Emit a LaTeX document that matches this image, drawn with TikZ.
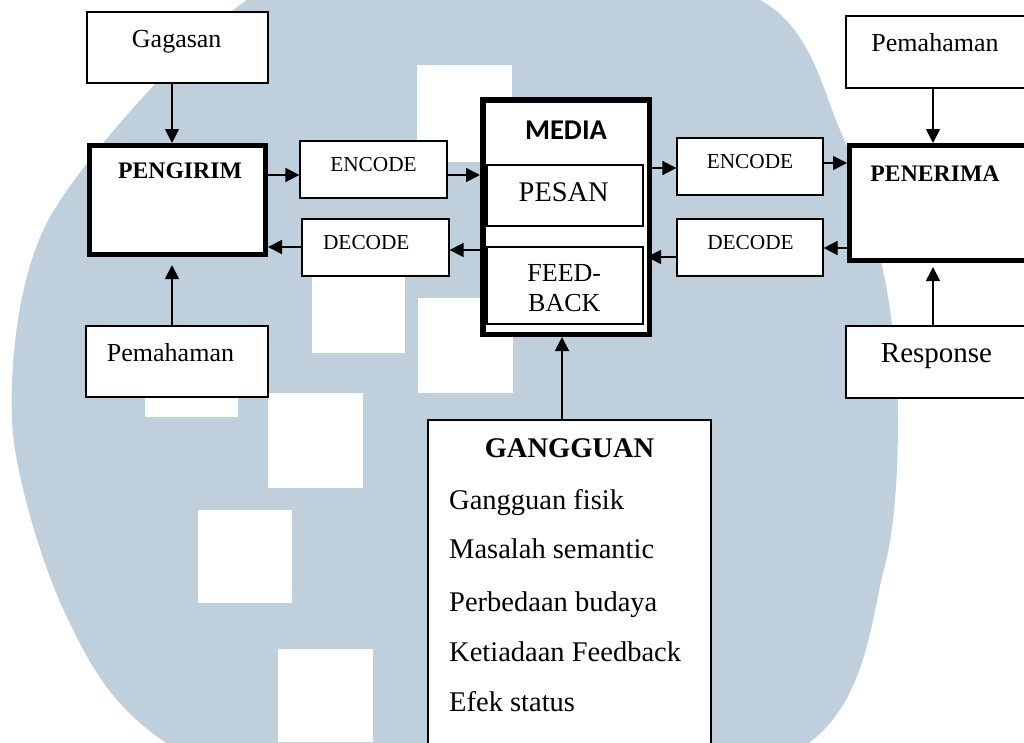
\documentclass[tikz,border=0pt]{standalone}
\usepackage{fontspec}
\setmainfont{Liberation Serif}
\newfontfamily\calibrifont{Carlito}
\usetikzlibrary{arrows.meta}
\definecolor{wmblue}{RGB}{192,207,220}
\begin{document}
\begin{tikzpicture}[x=1pt,y=-1pt,
  thinbox/.style={draw,line width=1.3pt,fill=white,inner sep=0pt},
  thickbox/.style={draw,line width=5pt,fill=white,inner sep=0pt},
  arr/.style={line width=1.8pt,-{Triangle[length=14pt,width=14pt]}},
  txt/.style={anchor=base,inner sep=0pt,font=\fontsize{26}{30}\selectfont},
  code/.style={anchor=base,inner sep=0pt,font=\fontsize{21.3}{25}\selectfont},
  head/.style={anchor=base,inner sep=0pt,font=\fontsize{23.7}{28}\selectfont\bfseries},
  item/.style={anchor=base west,inner sep=0pt,font=\fontsize{28.5}{32}\selectfont}]
\clip (0,0) rectangle (1024,742);
\fill[white] (0,0) rectangle (1024,742);
\fill[wmblue] plot[smooth cycle] coordinates {(470,-70) (760,0) (840,130) (885,280)
  (898,420) (884,569) (810,742) (470,880) (165,742) (65,613) (12,420) (50,217) (247,0)};
\foreach \xa/\ya/\xb/\yb in {417/65/512/162, 312/258/405/353, 418/298/513/393,
  145/340/238/417, 268/393/363/488, 198/510/292/603, 278/649/373/742}
  \fill[white] (\xa,\ya) rectangle (\xb,\yb);

\node[thinbox,minimum width=181pt,minimum height=71pt] (gagasan) at (177.5,47.5) {};
\node[thickbox,minimum width=176pt,minimum height=109pt] (pengirim) at (177.5,200) {};
\node[thinbox,minimum width=147pt,minimum height=57pt] (encL) at (373.5,169.5) {};
\node[thinbox,minimum width=147pt,minimum height=57pt] (decL) at (375.5,247.5) {};
\node[thinbox,minimum width=182pt,minimum height=71pt] (pemL) at (177,361.5) {};
\node[thickbox,line width=5.5pt,minimum width=166.5pt,minimum height=234.5pt] (media) at (566,217) {};
\node[thinbox,minimum width=156pt,minimum height=61pt] (pesan) at (565,195.5) {};
\node[thinbox,minimum width=156pt,minimum height=77pt] (feedback) at (565,285.5) {};
\node[thinbox,minimum width=146pt,minimum height=57pt] (encR) at (750,166.5) {};
\node[thinbox,minimum width=146pt,minimum height=57pt] (decR) at (750,247.5) {};
\node[thickbox,minimum width=188pt,minimum height=115pt] (penerima) at (943.5,203) {};
\node[thinbox,minimum width=194pt,minimum height=72pt] (pemR) at (943,52) {};
\node[thinbox,minimum width=194pt,minimum height=72pt] (response) at (943,362) {};
\node[thinbox,minimum width=283pt,minimum height=380pt] (gangguan) at (569.5,610) {};

\node[txt] (gagasantxt) at (176.7,47.7) {Gagasan};
\node[head] (pengirimtxt) at (180,178.3) {PENGIRIM};
\node[code] (encLtxt) at (373.5,171.7) {ENCODE};
\node[code] (decLtxt) at (366.3,249.3) {DECODE};
\node[txt] (pemLtxt) at (170.5,361) {Pemahaman};
\node[anchor=base,inner sep=0pt,font=\fontsize{28.6}{32}\calibrifont\bfseries] (mediatxt) at (566,139.3) {MEDIA};
\node[anchor=base,inner sep=0pt,font=\fontsize{28.4}{32}\selectfont] (pesantxt) at (563.7,201.7) {PESAN};
\node[anchor=base,inner sep=0pt,align=center,font=\fontsize{26}{30}\selectfont] (feedbacktxt) at (564.3,311.7) {FEED-\\BACK};
\node[code] (encRtxt) at (750,168.3) {ENCODE};
\node[code] (decRtxt) at (750.5,249.3) {DECODE};
\node[head] (penerimatxt) at (935,181) {PENERIMA};
\node[txt] (pemRtxt) at (935,51.7) {Pemahaman};
\node[txt,font=\fontsize{29}{33}\selectfont] (responsetxt) at (936.5,362.7) {Response};
\node[anchor=base,inner sep=0pt,font=\fontsize{28.5}{32}\selectfont\bfseries] (gangguantxt) at (569.5,457) {GANGGUAN};
\foreach \t/\y [count=\i] in {Gangguan fisik/509, Masalah semantic/558.5,
  Perbedaan budaya/611, Ketiadaan Feedback/661.7, Efek status/711.7}
  \node[item] (g\i) at (449,\y) {\t};

\draw[arr] (gagasan.south -| 172,0) -- (pengirim.north -| 172,0);
\draw[arr,shorten >=8pt] (pemL.north -| 172,0) -- (pengirim.south -| 172,0);
\draw[arr] (pengirim.east |- 0,175) -- (encL.west |- 0,175);
\draw[arr] (encL.east |- 0,175) -- (media.west |- 0,175);
\draw[arr] (media.west |- 0,250) -- (decL.east |- 0,250);
\draw[arr] (decL.west |- 0,247) -- (pengirim.east |- 0,247);
\draw[arr] (media.east |- 0,168) -- (encR.west |- 0,168);
\draw[arr] (encR.east |- 0,163) -- (penerima.west |- 0,163);
\draw[arr] (penerima.west |- 0,248) -- (decR.east |- 0,248);
\draw[arr,shorten >=-5pt] (decR.west |- 0,257) -- (media.east |- 0,257);
\draw[arr] (pemR.south -| 933,0) -- (penerima.north -| 933,0);
\draw[arr,shorten >=4pt] (response.north -| 933,0) -- (penerima.south -| 933,0);
\draw[arr] (gangguan.north -| 562,0) -- (media.south -| 562,0);
\end{tikzpicture}
\end{document}
